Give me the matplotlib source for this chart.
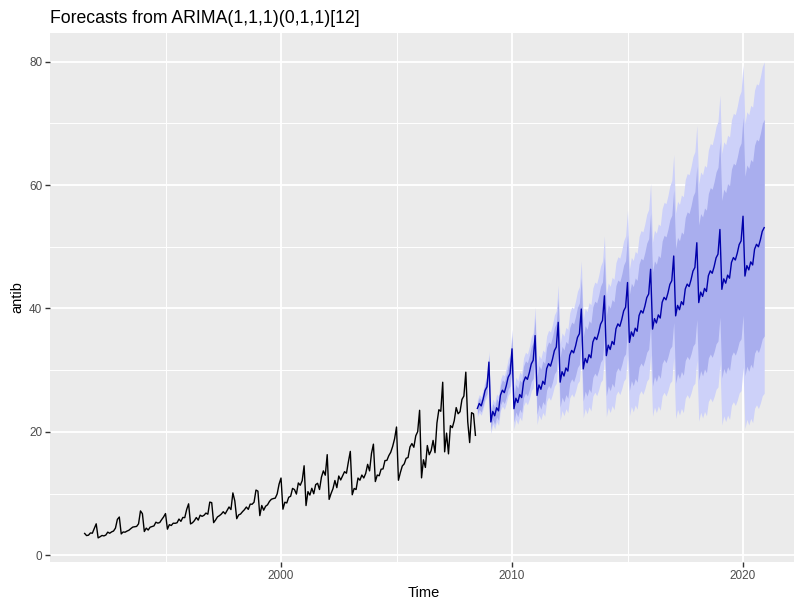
import numpy as np
import matplotlib
matplotlib.use("Agg")
import matplotlib.pyplot as plt
from matplotlib.ticker import FixedLocator

plt.rcParams['font.family'] = ['Liberation Sans', 'DejaVu Sans']

# ---------------- data ----------------
hist_start = 1991.5          # July 1991, monthly
hist_values = [
    3.53, 3.18, 3.25, 3.61, 3.57, 4.31,
    5.09, 2.81, 2.99, 3.20, 3.13, 3.27, 3.74, 3.56, 3.78, 3.92, 4.39, 5.81,
    6.19, 3.45, 3.77, 3.73, 3.91, 4.05, 4.32, 4.56, 4.61, 4.67, 5.09, 7.18,
    6.73, 3.84, 4.39, 4.08, 4.54, 4.65, 4.75, 5.35, 5.20, 5.30, 5.77, 6.20,
    6.75, 4.22, 4.95, 4.82, 5.19, 5.17, 5.26, 5.86, 5.49, 6.12, 6.09, 7.42,
    8.33, 5.07, 5.26, 5.60, 6.11, 5.69, 6.49, 6.30, 6.47, 6.83, 6.65, 8.61,
    8.52, 5.28, 5.71, 6.21, 6.41, 6.67, 7.05, 6.70, 7.25, 7.82, 7.40, 10.10,
    8.80, 5.92, 6.53, 6.68, 7.06, 7.38, 7.81, 7.43, 8.28, 8.26, 8.60, 10.56,
    10.39, 6.42, 8.06, 7.30, 7.94, 8.17, 8.72, 9.07, 9.18, 9.25, 9.93, 11.53,
    12.51, 7.46, 8.59, 8.47, 9.39, 9.56, 10.83, 10.64, 9.91, 11.71, 11.34, 12.08,
    14.50, 8.05, 10.31, 9.75, 10.85, 9.96, 11.44, 11.66, 10.65, 12.65, 13.67, 12.97,
    16.30, 9.05, 10.00, 10.79, 12.11, 10.95, 12.84, 12.20, 12.85, 13.54, 13.29, 15.13,
    16.83, 9.80, 10.82, 10.65, 12.51, 12.16, 13.00, 12.52, 13.27, 14.73, 13.67, 16.50,
    18.00, 11.94, 13.00, 12.88, 13.94, 13.99, 15.34, 15.37, 16.14, 16.69, 17.64, 18.87,
    20.78, 12.15, 13.40, 14.46, 14.80, 15.71, 15.83, 17.55, 18.10, 17.50, 19.35, 20.03,
    23.49, 12.54, 15.47, 14.23, 17.78, 16.29, 16.98, 18.61, 16.62, 21.43, 23.58, 23.33,
    28.04, 16.76, 19.79, 16.43, 21.00, 20.68, 21.83, 23.93, 22.93, 23.26, 25.25, 25.81,
    29.67, 21.65, 18.26, 23.11, 22.91, 19.43,
]

fc_start = 2008.5            # July 2008, monthly
fc_mean = [
    23.8, 24.6, 24.2, 25.3, 26.7, 27.3,
    31.3, 21.6, 23.3, 22.6, 23.9, 23.4, 25.95, 26.75, 26.35, 27.45, 28.85, 29.45,
    33.45, 23.75, 25.45, 24.75, 26.05, 25.55, 28.1, 28.9, 28.5, 29.6, 31.0, 31.6,
    35.6, 25.9, 27.6, 26.9, 28.2, 27.7, 30.25, 31.05, 30.65, 31.75, 33.15, 33.75,
    37.75, 28.05, 29.75, 29.05, 30.35, 29.85, 32.4, 33.2, 32.8, 33.9, 35.3, 35.9,
    39.9, 30.2, 31.9, 31.2, 32.5, 32.0, 34.55, 35.35, 34.95, 36.05, 37.45, 38.05,
    42.05, 32.35, 34.05, 33.35, 34.65, 34.15, 36.7, 37.5, 37.1, 38.2, 39.6, 40.2,
    44.2, 34.5, 36.2, 35.5, 36.8, 36.3, 38.85, 39.65, 39.25, 40.35, 41.75, 42.35,
    46.35, 36.65, 38.35, 37.65, 38.95, 38.45, 41.0, 41.8, 41.4, 42.5, 43.9, 44.5,
    48.5, 38.8, 40.5, 39.8, 41.1, 40.6, 43.15, 43.95, 43.55, 44.65, 46.05, 46.65,
    50.65, 40.95, 42.65, 41.95, 43.25, 42.75, 45.3, 46.1, 45.7, 46.8, 48.2, 48.8,
    52.8, 43.1, 44.8, 44.1, 45.4, 44.9, 47.45, 48.25, 47.85, 48.95, 50.35, 50.95,
    54.95, 45.25, 46.95, 46.25, 47.55, 47.05, 49.6, 50.4, 50.0, 51.1, 52.5, 53.1,
]

fc_se = [
    0.70, 0.74, 0.77, 0.80, 0.83, 0.86,
    0.90, 0.96, 1.02, 1.08, 1.14, 1.20, 1.26, 1.32, 1.38, 1.44, 1.50, 1.56,
    1.62, 1.68, 1.74, 1.80, 1.86, 1.92, 1.98, 2.04, 2.10, 2.16, 2.22, 2.28,
    2.34, 2.40, 2.46, 2.52, 2.58, 2.64, 2.70, 2.76, 2.82, 2.88, 2.94, 3.00,
    3.06, 3.14, 3.21, 3.29, 3.36, 3.44, 3.51, 3.59, 3.66, 3.74, 3.81, 3.89,
    3.97, 4.05, 4.14, 4.22, 4.30, 4.39, 4.47, 4.55, 4.64, 4.72, 4.80, 4.89,
    4.97, 5.05, 5.14, 5.22, 5.30, 5.39, 5.47, 5.55, 5.64, 5.72, 5.80, 5.89,
    5.98, 6.07, 6.16, 6.26, 6.35, 6.44, 6.53, 6.62, 6.72, 6.81, 6.90, 6.99,
    7.09, 7.20, 7.31, 7.42, 7.52, 7.63, 7.74, 7.85, 7.96, 8.06, 8.17, 8.28,
    8.39, 8.50, 8.60, 8.71, 8.82, 8.93, 9.04, 9.14, 9.25, 9.36, 9.47, 9.58,
    9.70, 9.81, 9.93, 10.05, 10.17, 10.28, 10.40, 10.52, 10.63, 10.75, 10.87, 10.98,
    11.10, 11.22, 11.33, 11.45, 11.57, 11.68, 11.80, 11.92, 12.03, 12.15, 12.27, 12.38,
    12.50, 12.61, 12.72, 12.83, 12.94, 13.05, 13.16, 13.27, 13.38, 13.49, 13.60, 13.70,
]

levels = [80, 95]
z_values = {80: 1.2816, 95: 1.9600}
level_colors = {95: "#CDD1F9", 80: "#A9AEEE"}

x_major = [2000, 2010, 2020]
x_minor = [1995, 2005, 2015]
y_major = [0, 20, 40, 60, 80]
y_minor = [10, 30, 50, 70]

title = "Forecasts from ARIMA(1,1,1)(0,1,1)[12]"
x_label = "Time"
y_label = "antib"

# ---------------- plot ----------------
W, H, DPI = 794, 601, 100
fig = plt.figure(figsize=(W / DPI, H / DPI), dpi=DPI)
fig.patch.set_facecolor("white")

left_px, right_px, top_px, bottom_px = 50, 798, 33, 562
ax = fig.add_axes([left_px / W, 1 - bottom_px / H,
                   (right_px - left_px) / W, (bottom_px - top_px) / H])
ax.set_facecolor("#EBEBEB")
for s in ax.spines.values():
    s.set_visible(False)

t_hist = hist_start + np.arange(len(hist_values)) / 12.0
t_fc = fc_start + np.arange(len(fc_mean)) / 12.0
mean = np.array(fc_mean)
se = np.array(fc_se)

for lev in sorted(levels, reverse=True):
    z = z_values[lev]
    ax.fill_between(t_fc, mean - z * se, mean + z * se, step=None,
                    color=level_colors[lev], linewidth=0, zorder=2)

ax.plot(t_hist, hist_values, color="black", lw=1.0, zorder=3)
ax.plot(t_fc, mean, color="#0000AA", lw=1.0, zorder=3)

ax.set_xlim(1990.0, 2022.38)
ax.set_ylim(-1.1, 84.65)

ax.xaxis.set_major_locator(FixedLocator(x_major))
ax.xaxis.set_minor_locator(FixedLocator(x_minor))
ax.yaxis.set_major_locator(FixedLocator(y_major))
ax.yaxis.set_minor_locator(FixedLocator(y_minor))
ax.set_axisbelow(True)
ax.grid(which="major", color="white", lw=1.35)
ax.grid(which="minor", color="white", lw=0.7)

ax.tick_params(which="major", length=3.6, width=1.0, color="#333333",
               labelcolor="#4D4D4D", labelsize=8.5, pad=2)
ax.tick_params(which="minor", length=0)
ax.set_xticklabels([str(v) for v in x_major])
ax.set_yticklabels([str(v) for v in y_major])

ax.set_xlabel(x_label, fontsize=10.5, color="black", labelpad=3)
ax.set_ylabel(y_label, fontsize=10.5, color="black", labelpad=3)

fig.text(left_px / W, 1 - 23 / H, title, fontsize=12.7, color="black",
         ha="left", va="baseline")

fig.savefig("out.png", dpi=DPI)
